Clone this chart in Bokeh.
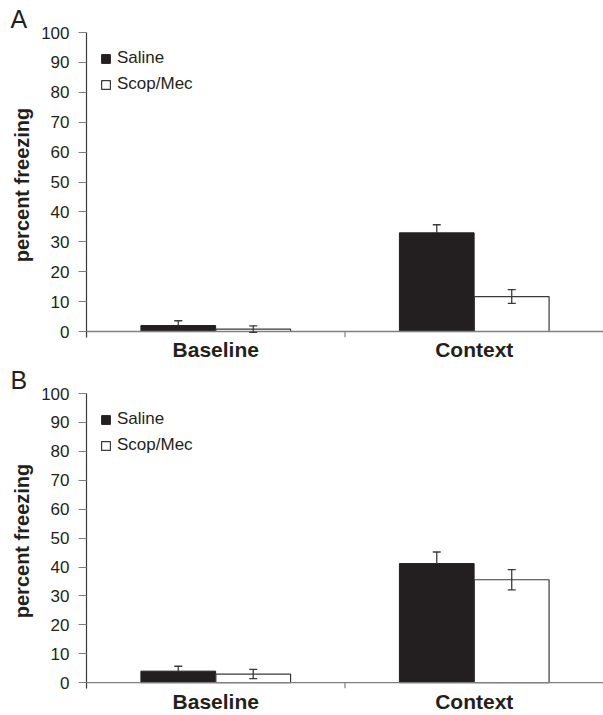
from bokeh.plotting import figure
from bokeh.models import (ColumnDataSource, FactorRange, Range1d, FixedTicker, Whisker,
                          TeeHead, Span, Legend)
from bokeh.transform import dodge
from bokeh.layouts import column
from bokeh.embed import file_html
from bokeh.resources import INLINE

categories = ["Baseline", "Context"]
y_ticks = [0, 10, 20, 30, 40, 50, 60, 70, 80, 90, 100]
boundary_ticks = [0, 1, 2]

# Panel A
a_saline = [2.0, 33.0]
a_saline_err = [1.6, 2.7]
a_scop = [0.8, 11.7]
a_scop_err = [1.1, 2.3]

# Panel B
b_saline = [4.0, 41.2]
b_saline_err = [1.7, 4.0]
b_scop = [3.0, 35.6]
b_scop_err = [1.6, 3.5]

FONT = "Liberation Sans"
DARK = "#231f20"
GREY = "#808080"
OFF = 0.145
BW = 0.289


def panel(letter, saline, saline_err, scop, scop_err, height, top, bottom, standoff):
    src = ColumnDataSource(dict(
        cat=categories,
        saline=saline,
        scop=scop,
        sal_lo=[v - e for v, e in zip(saline, saline_err)],
        sal_hi=[v + e for v, e in zip(saline, saline_err)],
        scop_lo=[v - e for v, e in zip(scop, scop_err)],
        scop_hi=[v + e for v, e in zip(scop, scop_err)],
    ))
    x_range = FactorRange(*categories, range_padding=0)
    p = figure(x_range=x_range, y_range=Range1d(-2, 100), width=603, height=height,
               output_backend="svg", toolbar_location=None, title=letter,
               min_border_left=86, min_border_right=0, min_border_top=top,
               min_border_bottom=bottom)
    p.outline_line_color = None
    p.grid.visible = False

    p.title.align = "left"
    p.title.offset = -76
    p.title.standoff = 0
    p.title.text_font = FONT
    p.title.text_font_style = "normal"
    p.title.text_font_size = "25px"
    p.title.text_line_height = 0.9
    p.title.text_color = DARK

    r1 = p.vbar(x=dodge("cat", -OFF, range=x_range), top="saline", bottom=0, width=BW,
                source=src, fill_color=DARK, line_color=DARK, line_width=1)
    r2 = p.vbar(x=dodge("cat", OFF, range=x_range), top="scop", bottom=0, width=BW,
                source=src, fill_color="white", line_color="#3a3a3a", line_width=1.2)

    # Saline error bars: only the upper half shows above the dark bar
    p.add_layout(Whisker(source=src, base=dodge("cat", -OFF, range=x_range),
                         lower="saline", upper="sal_hi",
                         line_color="#3a3a3a", line_width=1.3, level="overlay",
                         upper_head=TeeHead(size=8, line_color="#3a3a3a", line_width=1.3),
                         lower_head=None))
    p.add_layout(Whisker(source=src, base=dodge("cat", OFF, range=x_range),
                         lower="scop_lo", upper="scop_hi",
                         line_color="#3a3a3a", line_width=1.3, level="overlay",
                         upper_head=TeeHead(size=8, line_color="#3a3a3a", line_width=1.3),
                         lower_head=TeeHead(size=8, line_color="#3a3a3a", line_width=1.3)))

    # x axis line at zero and category boundary ticks
    p.add_layout(Span(location=0, dimension="width", line_color=GREY, line_width=1.3))
    p.segment(x0=boundary_ticks, x1=boundary_ticks, y0=[0] * 3, y1=[-2] * 3,
              line_color=GREY, line_width=1.2)

    xa = p.xaxis[0]
    xa.axis_line_color = None
    xa.major_tick_line_color = None
    xa.major_tick_out = 0
    xa.major_label_standoff = standoff
    xa.major_label_text_font = FONT
    xa.major_label_text_font_style = "bold"
    xa.major_label_text_font_size = "21px"
    xa.major_label_text_color = DARK

    ya = p.yaxis[0]
    ya.ticker = FixedTicker(ticks=y_ticks)
    ya.minor_tick_line_color = None
    ya.axis_line_color = "#3a3a3a"
    ya.axis_line_width = 1.2
    ya.major_tick_line_color = GREY
    ya.major_tick_out = 8
    ya.major_tick_in = 0
    ya.major_label_standoff = 9
    ya.major_label_text_font = FONT
    ya.major_label_text_font_size = "17px"
    ya.major_label_text_color = DARK
    ya.axis_label = "percent freezing"
    ya.axis_label_text_font = FONT
    ya.axis_label_text_font_style = "bold"
    ya.axis_label_text_font_size = "20px"
    ya.axis_label_text_color = DARK
    ya.axis_label_standoff = 5

    legend = Legend(items=[("Saline", [r1]), ("Scop/Mec", [r2])], location="top_left",
                    margin=14, padding=0, spacing=2, glyph_width=11, glyph_height=11,
                    label_height=24, label_standoff=6, background_fill_alpha=0,
                    border_line_color=None, label_text_font=FONT,
                    label_text_font_size="17px", label_text_color=DARK)
    p.add_layout(legend)
    return p


p1 = panel("A", a_saline, a_saline_err, a_scop, a_scop_err, 363, 32, 26, 0)
p2 = panel("B", b_saline, b_saline_err, b_scop, b_scop_err, 352, 27, 26, 1)

layout = column(p1, p2, spacing=0)
open("out.html", "w").write(file_html(layout, INLINE))
